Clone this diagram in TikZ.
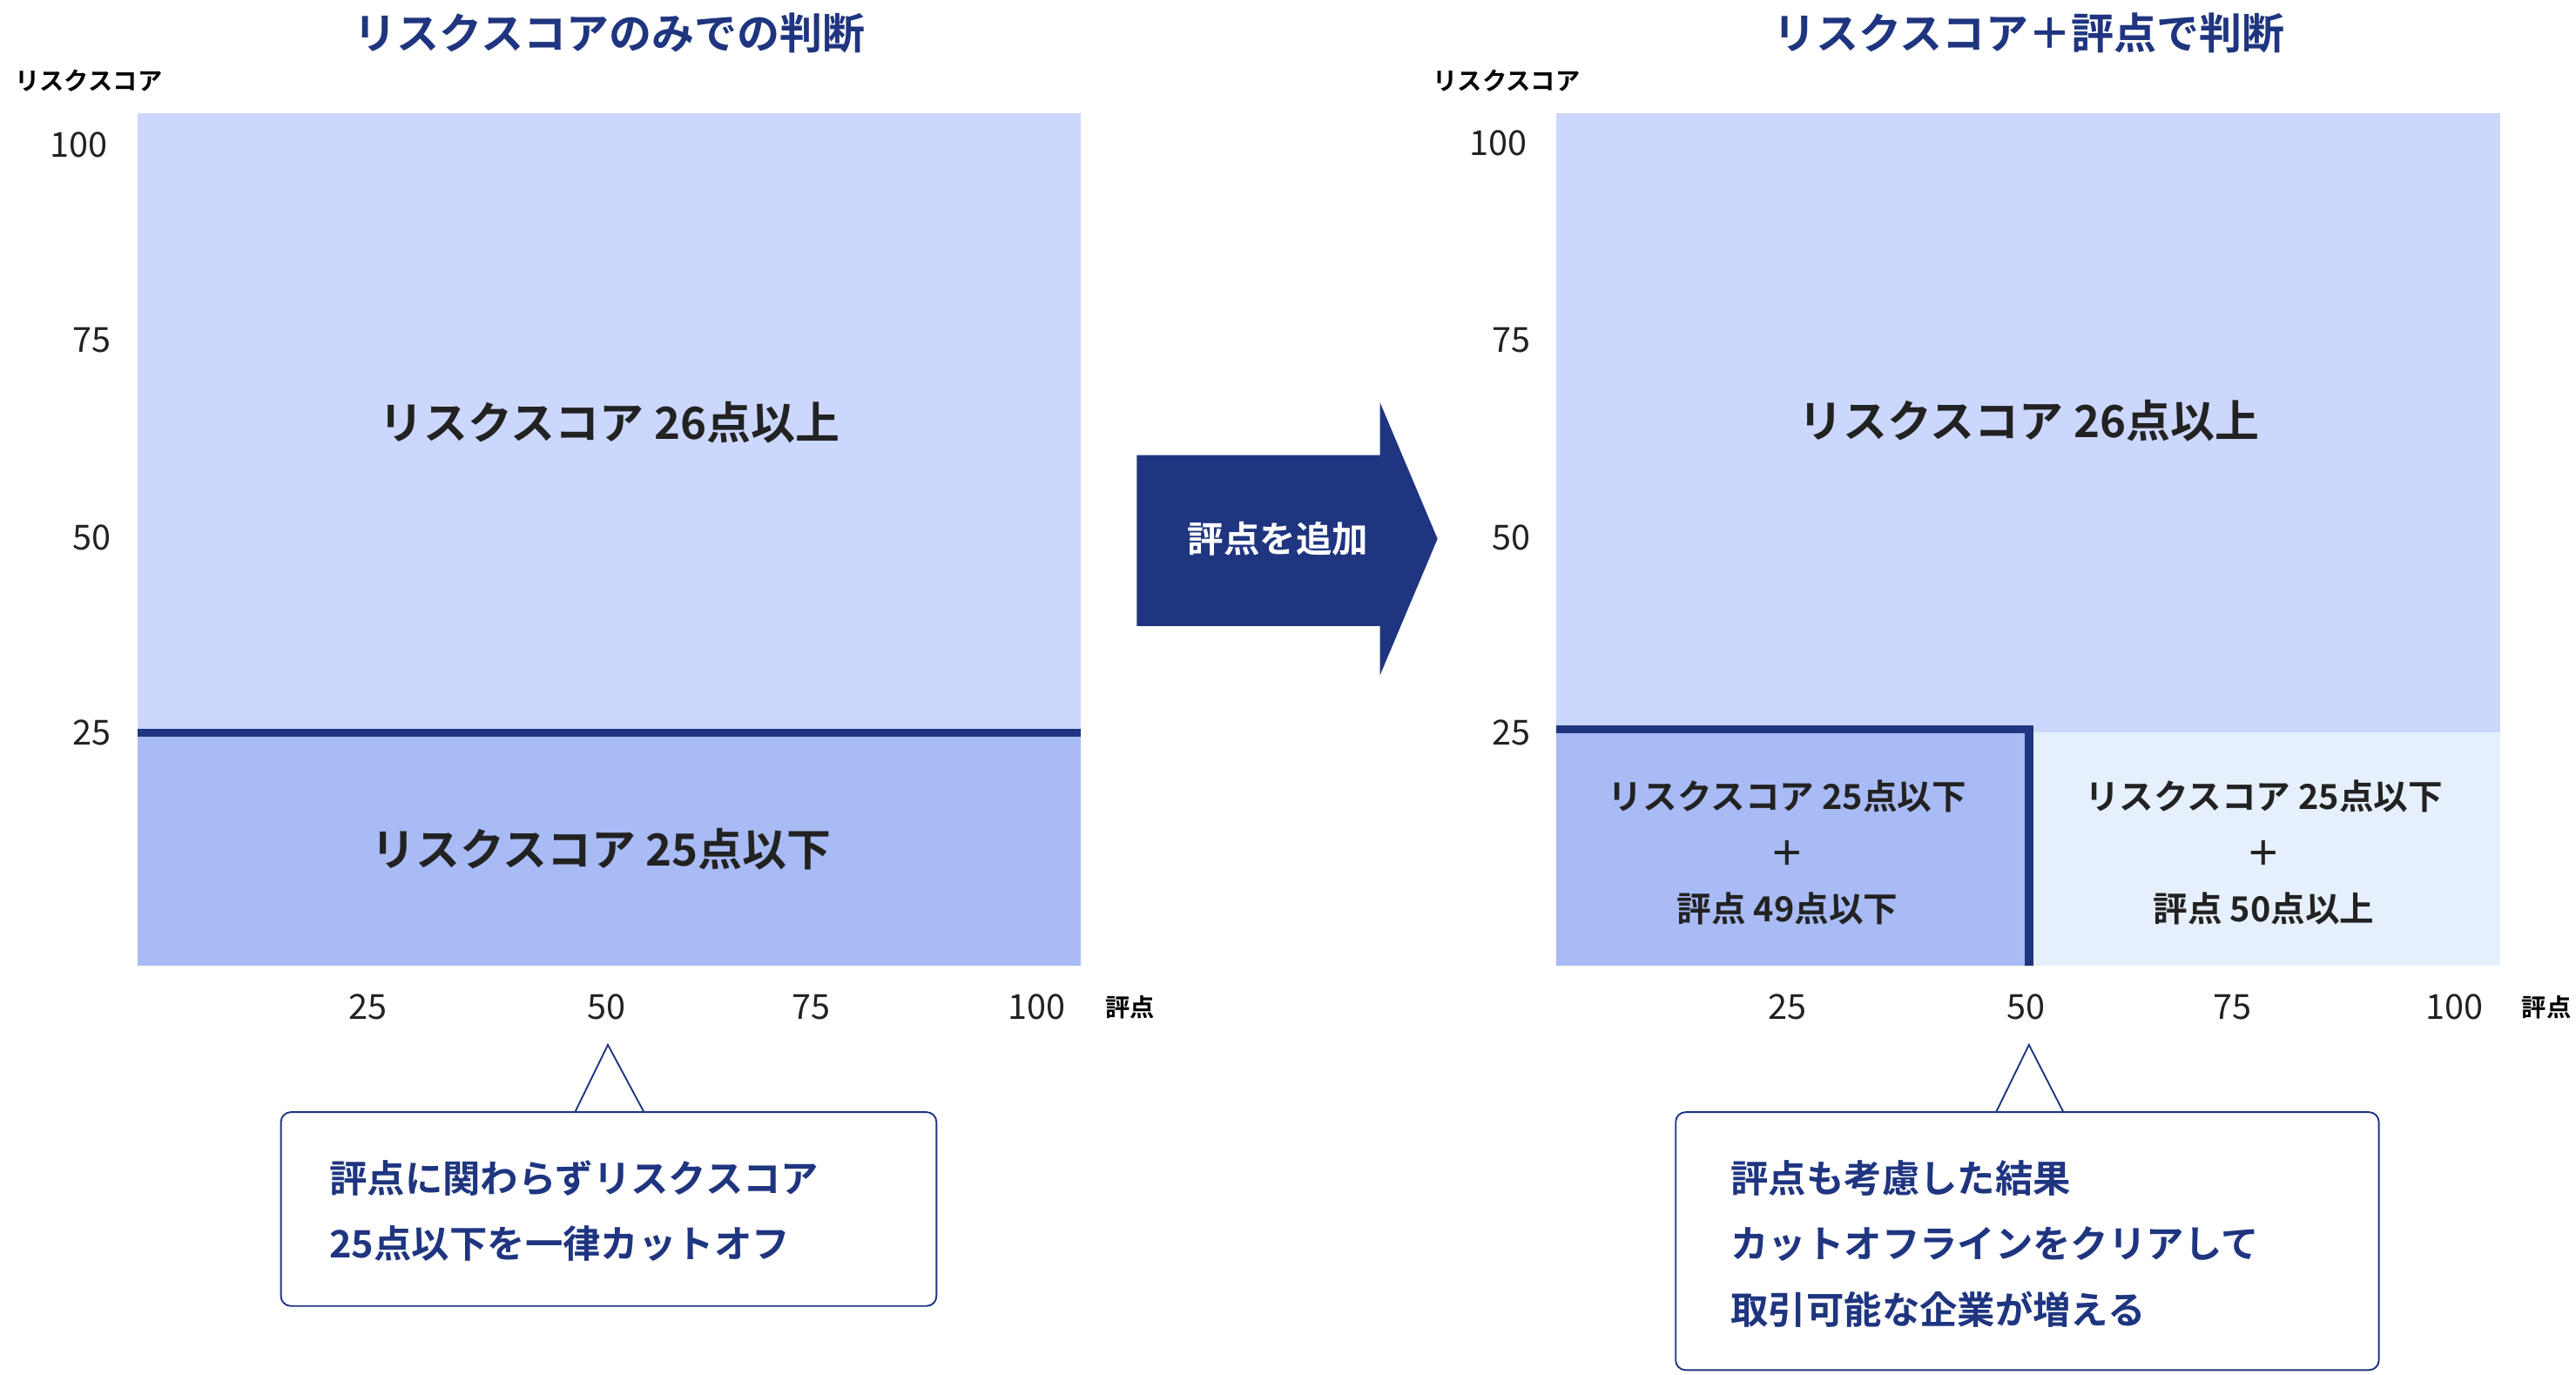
\documentclass[tikz,border=0pt]{standalone}
\usepackage{fontspec}
\setmainfont{Noto Sans CJK JP}
\newfontfamily\jpb{Noto Sans CJK JP Bold}
\definecolor{navy}{HTML}{1F3580}
\definecolor{lt}{HTML}{CCD7FD}
\definecolor{md}{HTML}{A9BBF4}
\definecolor{pl}{HTML}{E6F0FD}
\definecolor{tx}{HTML}{222222}
\begin{document}
\begin{tikzpicture}[x=1pt,y=-1pt,
 ttl/.style={font=\jpb\fontsize{26}{30}\selectfont,text=navy},
 big/.style={font=\jpb\fontsize{27}{32}\selectfont,text=tx},
 mid/.style={font=\jpb\fontsize{21}{34}\selectfont,text=tx,align=center},
 ax/.style={font=\fontsize{21}{24}\selectfont,text=tx},
 sm/.style={font=\jpb\fontsize{15}{18}\selectfont,text=black},
 cl/.style={font=\jpb\fontsize{23}{40}\selectfont,text=navy,align=left,anchor=west},
 call/.style={draw=navy,line width=1pt,fill=white,rounded corners=6pt}]
\useasboundingbox (0,0) rectangle (1568,837);
% left panel
\fill[lt] (84,69) rectangle (658,446);
\fill[md] (84,446) rectangle (658,588);
\coordinate (l1) at (84,446); \coordinate (l2) at (658,446);
\draw[navy,line width=5pt] (l1) -- (l2);
\node[ttl] (t1) at (371,20) {リスクスコアのみでの判断};
\node[sm] (ya1) at (54,49) {リスクスコア};
\node[ax] (a1) at (48,88) {100};
\node[ax] (a2) at (56,207) {75};
\node[ax] (a3) at (56,327) {50};
\node[ax] (a4) at (56,446) {25};
\node[ax] (b1) at (224,613) {25};
\node[ax] (b2) at (369,613) {50};
\node[ax] (b3) at (494,613) {75};
\node[ax] (b4) at (631,613) {100};
\node[sm] (xa1) at (688,613) {評点};
\node[big] (r1) at (371,257) {リスクスコア 26点以上};
\node[big] (r2) at (366,517) {リスクスコア 25点以下};
% arrow
\fill[navy] (692,277) -- (840,277) -- (840,245) -- (875,328) -- (840,411) -- (840,381) -- (692,381) -- cycle;
\node[font=\jpb\fontsize{22}{26}\selectfont,text=white] (ar) at (778,328) {評点を追加};
% left callout
\draw[call] (171,677) rectangle (570,795);
\fill[white] (350,676) -- (370,636) -- (392,676) -- cycle;
\draw[navy,line width=1pt] (350,677) -- (370,636) -- (392,677);
\node[cl] (c1) at (197,737) {評点に関わらずリスクスコア\\25点以下を一律カットオフ};
% right panel
\fill[lt] (947,69) rectangle (1522,446);
\fill[md] (947,446) rectangle (1233,588);
\fill[pl] (1233,446) rectangle (1522,588);
\coordinate (m1) at (947,444); \coordinate (m2) at (1235,444); \coordinate (m3) at (1235,588);
\draw[navy,line width=5pt] (m1) -- (m2) -- (m3);
\node[ttl] (t2) at (1235,20) {リスクスコア＋評点で判断};
\node[sm] (ya2) at (917,49) {リスクスコア};
\node[ax] (c1a) at (912,87) {100};
\node[ax] (c2a) at (920,207) {75};
\node[ax] (c3a) at (920,327) {50};
\node[ax] (c4a) at (920,446) {25};
\node[ax] (d1) at (1088,613) {25};
\node[ax] (d2) at (1233,613) {50};
\node[ax] (d3) at (1359,613) {75};
\node[ax] (d4) at (1494,613) {100};
\node[sm] (xa2) at (1550,613) {評点};
\node[big] (r3) at (1235,256) {リスクスコア 26点以上};
\node[mid] (r4) at (1088,519) {リスクスコア 25点以下\\＋\\評点 49点以下};
\node[mid] (r5) at (1378,519) {リスクスコア 25点以下\\＋\\評点 50点以上};
% right callout
\draw[call] (1020,677) rectangle (1448,834);
\fill[white] (1215,676) -- (1235,636) -- (1256,676) -- cycle;
\draw[navy,line width=1pt] (1215,677) -- (1235,636) -- (1256,677);
\node[cl] (c2) at (1050,757) {評点も考慮した結果\\カットオフラインをクリアして\\取引可能な企業が増える};
\end{tikzpicture}
\end{document}
